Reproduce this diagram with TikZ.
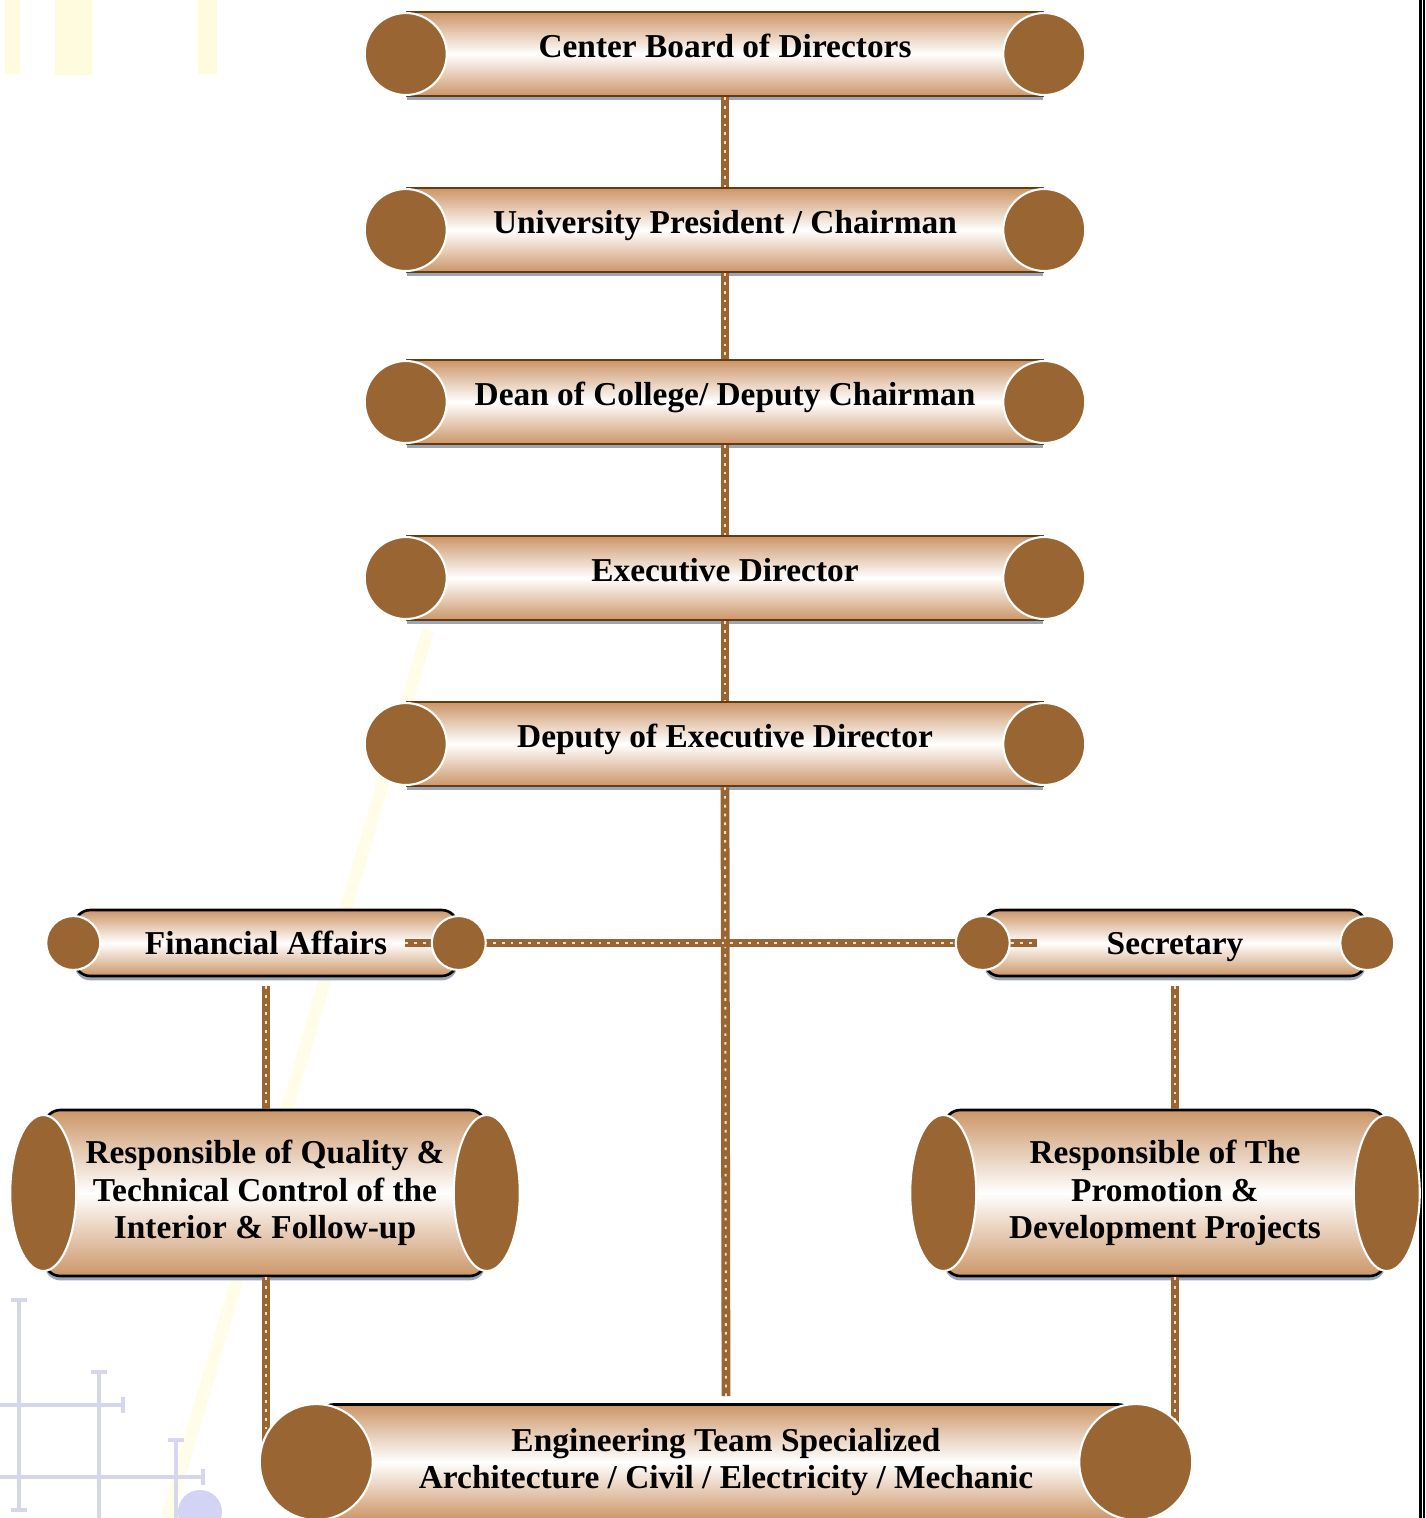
\documentclass[tikz,border=0pt]{standalone}
\usepackage{fontspec}
\setmainfont{Liberation Serif}
\usetikzlibrary{shapes.geometric}
\usetikzlibrary{shadows}
\definecolor{capbrown}{RGB}{153,102,51}
\definecolor{tubetan}{RGB}{204,150,104}
\definecolor{edgebrown}{RGB}{104,58,12}
\definecolor{shadeblue}{RGB}{152,166,186}
\definecolor{chainlight}{RGB}{240,222,200}
\definecolor{marklilac}{RGB}{214,214,236}
\definecolor{beamyellow}{RGB}{255,251,222}

\begin{document}
\begin{tikzpicture}[x=0.02cm, y=-0.02cm,
    tube/.style={rectangle, top color=tubetan, bottom color=tubetan, middle color=white,
        draw=edgebrown, line width=1.5pt, inner sep=0pt, align=center,
        font=\fontsize{19}{21.5}\selectfont\bfseries,
        drop shadow={shadow xshift=0pt, shadow yshift=-2.5pt, fill=shadeblue, opacity=1}},
    bigtube/.style={tube, minimum width=12.72cm, minimum height=1.68cm, text height=12.3pt, text depth=8pt},
    smalltube/.style={tube, draw=black, rounded corners=9pt},
    endcap/.style={circle, fill=capbrown, draw=white, line width=1.2pt, inner sep=0pt, minimum size=#1},
    endoval/.style={ellipse, fill=capbrown, draw=white, line width=1.2pt, inner sep=0pt},
    chainlink/.style={draw=capbrown, line width=5pt,
        postaction={draw=chainlight, line width=1.1pt, dash pattern=on 1.5pt off 3.5pt}},
    lilac/.style={draw=marklilac, line width=2.8pt}]
    \useasboundingbox (0,0) rectangle (1426,1518);
    \fill[beamyellow] (5,0) rectangle (20,74) (55,0) rectangle (92,75) (198,0) rectangle (217,74);
    \draw[beamyellow!70!white, line width=7pt] (428,630) -- (167,1518);
    \draw[lilac] (19,1300) -- (19,1510) (11,1300) -- (27,1300) (11,1510) -- (27,1510);
    \draw[lilac] (99,1372) -- (99,1518) (91,1372) -- (107,1372);
    \draw[lilac] (176,1440) -- (176,1518) (168,1440) -- (184,1440);
    \draw[lilac] (0,1405) -- (123,1405) (123,1397) -- (123,1413);
    \draw[lilac] (0,1477) -- (203,1477) (203,1469) -- (203,1485);
    \fill[marklilac!85!blue!60] (200,1512) circle (22);
    \draw[line width=1.5pt] (1420.7,0) -- (1420.7,1518);
    \draw[line width=0.9pt] (1424.2,0) -- (1424.2,1518);

    \node[bigtube] (board) at (725,54) {Center Board of Directors};
    \node[bigtube] (pres) at (725,230) {University President / Chairman};
    \node[bigtube] (dean) at (725,402) {Dean of College/ Deputy Chairman};
    \node[bigtube] (exec) at (725,578) {Executive Director};
    \node[bigtube] (deputy) at (725,744) {Deputy of Executive Director};
    \node[smalltube, minimum width=7.66cm, minimum height=1.32cm, text height=13.5pt, text depth=0pt] (fin) at (266,943) {Financial Affairs};
    \node[smalltube, minimum width=7.64cm, minimum height=1.32cm, text height=13.5pt, text depth=0pt] (sec) at (1175,943) {Secretary};
    \node[smalltube, minimum width=8.82cm, minimum height=3.32cm] (quality) at (265,1193)
        {Responsible of Quality \&\\Technical Control of the\\Interior \& Follow-up};
    \node[smalltube, minimum width=8.82cm, minimum height=3.32cm] (promo) at (1165,1193)
        {Responsible of The\\Promotion \&\\Development Projects};
    \node[smalltube, minimum width=16.34cm, minimum height=2.3cm] (eng) at (726,1462)
        {Engineering Team Specialized\\Architecture / Civil / Electricity / Mechanic};

    \draw[chainlink] (board.south) -- (pres.north);
    \draw[chainlink] (pres.south) -- (dean.north);
    \draw[chainlink] (dean.south) -- (exec.north);
    \draw[chainlink] (exec.south) -- (deputy.north);
    \draw[chainlink, shorten >=0.14cm] (deputy.south) -- (eng.north);
    \draw[chainlink, shorten <=-1.07cm, shorten >=-1.08cm] (fin.east) -- (sec.west);
    \draw[chainlink, shorten <=5pt] (fin.south) -- (fin.south |- quality.north);
    \draw[chainlink, shorten <=5pt] (sec.south) -- (sec.south |- promo.north);
    \draw[chainlink] (fin.south |- quality.south) -- (fin.south |- eng.center);
    \draw[chainlink] (sec.south |- promo.south) -- (sec.south |- eng.center);

    \foreach \b in {board,pres,dean,exec,deputy} {
        \node[endcap=1.64cm] (\b-l) at (\b.west) {};
        \node[endcap=1.64cm] (\b-r) at (\b.east) {};
    }
    \foreach \b in {fin,sec} {
        \node[endcap=1.08cm] (\b-l) at (\b.west) {};
        \node[endcap=1.08cm] (\b-r) at (\b.east) {};
    }
    \foreach \b in {quality,promo} {
        \node[endoval, minimum width=1.32cm, minimum height=3.12cm] (\b-l) at (\b.west) {};
        \node[endoval, minimum width=1.32cm, minimum height=3.12cm] (\b-r) at (\b.east) {};
    }
    \node[endoval, minimum width=2.26cm, minimum height=2.32cm] (eng-l) at (eng.west) {};
    \node[endoval, minimum width=2.26cm, minimum height=2.32cm] (eng-r) at (eng.east) {};
\end{tikzpicture}
\end{document}
